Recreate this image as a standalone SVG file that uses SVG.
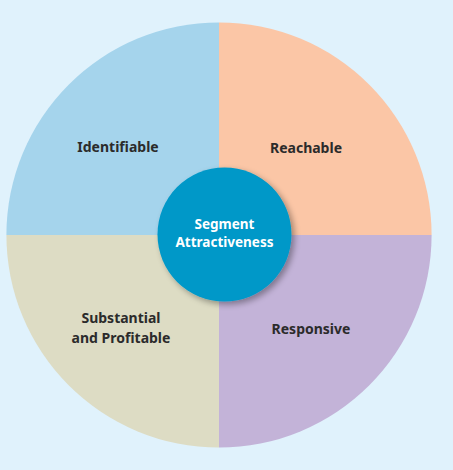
<svg xmlns="http://www.w3.org/2000/svg" width="453" height="470" viewBox="0 0 453 470">
  <defs>
    <style>
      .lbl { font-family: "Noto Sans", "Open Sans", sans-serif; font-weight: bold; font-size: 14px; fill: #2b2b2b; text-anchor: middle; }
      .ctr { font-family: "Noto Sans", "Open Sans", sans-serif; font-weight: bold; font-size: 13.5px; fill: #ffffff; text-anchor: middle; }
    </style>
    <filter id="shadow" x="-20%" y="-20%" width="150%" height="150%">
      <feGaussianBlur in="SourceAlpha" stdDeviation="3"/>
      <feOffset dx="3" dy="3" result="b"/>
      <feComponentTransfer><feFuncA type="linear" slope="0.35"/></feComponentTransfer>
      <feMerge><feMergeNode/><feMergeNode in="SourceGraphic"/></feMerge>
    </filter>
  </defs>
  <rect width="453" height="470" fill="#e0f2fc"/>
  <g id="identifiable">
    <path d="M219,235 L6.4,235 A212.6,212.6 0 0 1 219,22.4 Z" fill="#a5d4ec"/>
    <text class="lbl" x="118" y="152">Identifiable</text>
  </g>
  <g id="reachable">
    <path d="M219,235 L219,22.4 A212.6,212.6 0 0 1 431.6,235 Z" fill="#fbc6a6"/>
    <text class="lbl" x="306" y="153">Reachable</text>
  </g>
  <g id="responsive">
    <path d="M219,235 L431.6,235 A212.6,212.6 0 0 1 219,447.6 Z" fill="#c3b3d8"/>
    <text class="lbl" x="311" y="334">Responsive</text>
  </g>
  <g id="substantial">
    <path d="M219,235 L219,447.6 A212.6,212.6 0 0 1 6.4,235 Z" fill="#dddcc4"/>
    <text class="lbl" x="121" y="323">Substantial</text>
    <text class="lbl" x="121" y="343">and Profitable</text>
  </g>
  <g id="center">
    <circle cx="224.5" cy="234.5" r="67" fill="#0098c8" filter="url(#shadow)"/>
    <text class="ctr" x="224.5" y="229">Segment</text>
    <text class="ctr" x="224.5" y="247">Attractiveness</text>
  </g>
  <g id="connectors"/>
</svg>
